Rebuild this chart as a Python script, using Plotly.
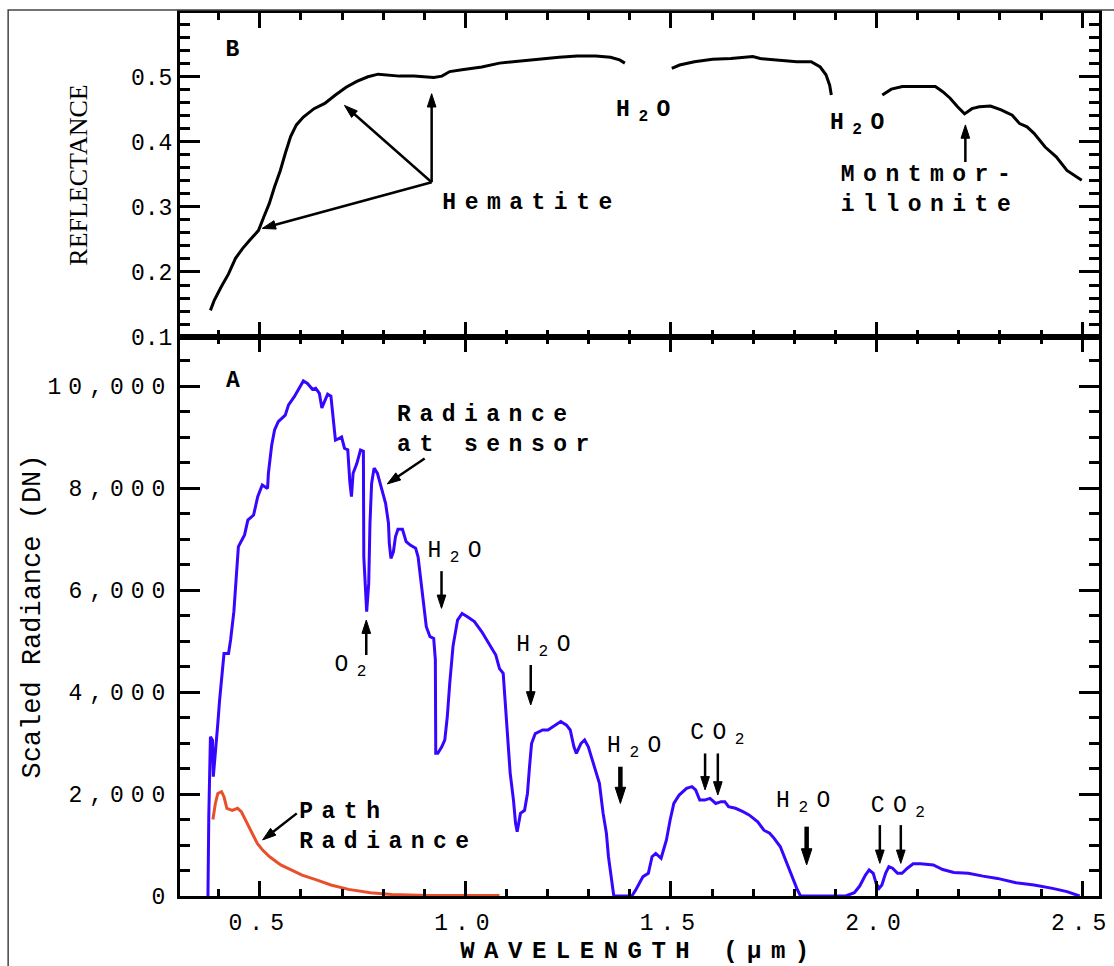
import plotly.graph_objects as go

# ---- Panel A: radiance at the sensor and path radiance (scaled DN) ----
sensor_wl = [0.374, 0.376, 0.380, 0.385, 0.387, 0.393, 0.398, 0.402, 0.409, 0.413, 0.424, 0.429,
             0.437, 0.441, 0.448, 0.463, 0.471, 0.485, 0.495, 0.506, 0.519, 0.521, 0.529, 0.536,
             0.545, 0.562, 0.570, 0.584, 0.597, 0.606, 0.616, 0.628, 0.636, 0.645, 0.651, 0.658,
             0.665, 0.673, 0.680, 0.684, 0.692, 0.699, 0.706, 0.714, 0.719, 0.723, 0.727, 0.736,
             0.745, 0.752, 0.753, 0.760, 0.765, 0.768, 0.772, 0.778, 0.786, 0.795, 0.806, 0.813,
             0.815, 0.819, 0.825, 0.830, 0.836, 0.847, 0.856, 0.866, 0.879, 0.885, 0.892, 0.899,
             0.905, 0.914, 0.923, 0.927, 0.928, 0.933, 0.943, 0.950, 0.956, 0.962, 0.970, 0.981,
             0.992, 1.005, 1.022, 1.040, 1.057, 1.074, 1.083, 1.092, 1.096, 1.100, 1.105, 1.109,
             1.117, 1.122, 1.126, 1.131, 1.134, 1.144, 1.151, 1.156, 1.161, 1.170, 1.188, 1.201,
             1.219, 1.232, 1.246, 1.255, 1.264, 1.270, 1.281, 1.290, 1.299, 1.312, 1.321, 1.326,
             1.335, 1.343, 1.348, 1.357, 1.361, 1.405, 1.414, 1.432, 1.445, 1.454, 1.463, 1.476,
             1.489, 1.498, 1.507, 1.520, 1.538, 1.551, 1.560, 1.570, 1.582, 1.595, 1.609, 1.622,
             1.631, 1.640, 1.657, 1.675, 1.690, 1.711, 1.726, 1.740, 1.751, 1.766, 1.779, 1.788,
             1.797, 1.806, 1.815, 1.925, 1.946, 1.959, 1.973, 1.982, 1.992, 1.999, 2.006, 2.013,
             2.022, 2.030, 2.039, 2.051, 2.062, 2.075, 2.089, 2.107, 2.138, 2.161, 2.188, 2.223,
             2.259, 2.294, 2.339, 2.383, 2.428, 2.463, 2.494]
sensor_dn = [0, 1550, 3120, 3055, 2340, 2860, 3385, 3810, 4365, 4755, 4755, 5020,
             5575, 6100, 6850, 7080, 7370, 7470, 7830, 8060, 7990, 8290, 8840, 9140,
             9300, 9430, 9630, 9790, 9990, 10100, 10050, 9935, 9955, 9855, 9570, 9725,
             9840, 9800, 9200, 8940, 8970, 9000, 8780, 8750, 8120, 7830, 8290, 8480,
             8745, 8720, 6650, 5575, 6130, 7310, 8090, 8390, 8290, 8025, 7700, 7310,
             6920, 6620, 6750, 7045, 7190, 7190, 6950, 6880, 6820, 6650, 6130, 5675,
             5280, 5085, 5050, 4630, 2800, 2800, 2930, 3060, 3510, 4170, 4900, 5410,
             5540, 5475, 5380, 5180, 4955, 4725, 4460, 4365, 3905, 3450, 3060, 2410,
             1880, 1430, 1260, 1455, 1620, 1680, 2010, 2530, 2990, 3185, 3255, 3255,
             3350, 3420, 3350, 3255, 2925, 2795, 2990, 3060, 2925, 2600, 2340, 2210,
             1620, 1230, 770, 180, 0, 0, 115, 380, 445, 770, 835, 740,
             1100, 1490, 1815, 1980, 2110, 2145, 2080, 1880, 1880, 1915, 1815, 1850,
             1850, 1750, 1720, 1655, 1590, 1455, 1290, 1230, 1130, 965, 705, 510,
             315, 150, 0, 0, 65, 195, 410, 510, 445, 245, 150, 215,
             445, 575, 545, 445, 445, 545, 630, 630, 610, 520, 460, 445,
             390, 345, 260, 215, 150, 85, 0]

path_wl = [0.386, 0.392, 0.398, 0.407, 0.413, 0.420, 0.433, 0.446, 0.455, 0.468, 0.481, 0.494,
           0.507, 0.524, 0.551, 0.577, 0.603, 0.638, 0.673, 0.716, 0.769, 0.821, 0.908, 1.083]
path_dn = [1500, 1815, 2010, 2045, 1945, 1720, 1680, 1720, 1655, 1455, 1230, 1030,
           900, 770, 610, 510, 410, 315, 215, 130, 65, 30, 10, 10]

# ---- Panel B: reflectance of a hematite / montmorillonite soil (three windows) ----
refl_wl_vnir = [0.380, 0.389, 0.406, 0.424, 0.441, 0.458, 0.476, 0.497, 0.510, 0.523, 0.536, 0.550,
                0.562, 0.575, 0.589, 0.606, 0.632, 0.658, 0.684, 0.710, 0.736, 0.763, 0.788, 0.805,
                0.840, 0.875, 0.910, 0.923, 0.943, 0.962, 0.996, 1.040, 1.083, 1.127, 1.170, 1.196,
                1.228, 1.272, 1.317, 1.353, 1.375, 1.388]
refl_vnir = [0.141, 0.156, 0.177, 0.197, 0.221, 0.236, 0.249, 0.264, 0.285, 0.305, 0.331, 0.356,
             0.382, 0.408, 0.426, 0.438, 0.451, 0.459, 0.472, 0.484, 0.493, 0.500, 0.504, 0.503,
             0.501, 0.501, 0.499, 0.499, 0.501, 0.508, 0.511, 0.515, 0.521, 0.524, 0.526, 0.528,
             0.530, 0.532, 0.532, 0.530, 0.526, 0.521]
refl_wl_swir1 = [1.502, 1.521, 1.557, 1.601, 1.646, 1.699, 1.717, 1.761, 1.806, 1.841, 1.863, 1.877,
                 1.886, 1.890]
refl_swir1 = [0.513, 0.518, 0.523, 0.527, 0.528, 0.531, 0.528, 0.526, 0.523, 0.523, 0.515, 0.503,
              0.487, 0.472]
refl_wl_swir2 = [2.014, 2.036, 2.063, 2.099, 2.143, 2.161, 2.179, 2.197, 2.214, 2.232, 2.250, 2.277,
                 2.303, 2.330, 2.348, 2.366, 2.383, 2.410, 2.437, 2.463, 2.499]
refl_swir2 = [0.472, 0.481, 0.485, 0.485, 0.485, 0.477, 0.467, 0.454, 0.443, 0.451, 0.454, 0.455,
              0.449, 0.441, 0.428, 0.423, 0.413, 0.392, 0.377, 0.356, 0.341]

# ---- tick labels ----
wl_tick_vals = [0.5, 1.0, 1.5, 2.0, 2.5]
wl_tick_text = ["0.5", "1.0", "1.5", "2.0", "2.5"]
dn_tick_vals = [0, 2000, 4000, 6000, 8000, 10000]
dn_tick_text = ["0", "2,000", "4,000", "6,000", "8,000", "10,000"]
refl_tick_vals = [0.1, 0.2, 0.3, 0.4, 0.5]
refl_tick_text = ["0.1", "0.2", "0.3", "0.4", "0.5"]

# ---- feature labels ----
b_labels = ["B", "Hematite", "H<sub>2</sub>O", "H<sub>2</sub>O", "Montmor-<br>illonite"]
b_label_wl = [0.444, 1.161, 1.443, 1.963, 2.130]
b_label_refl = [0.541, 0.305, 0.449, 0.429, 0.326]

a_bold_labels = ["A", "Radiance<br>at sensor", "Path<br>Radiance"]
a_bold_wl = [0.445, 0.834, 0.596]
a_bold_dn = [10085, 9140, 1350]
a_bold_pos = ["middle center", "middle right", "middle right"]

a_gas_labels = ["O<sub>2</sub>", "H<sub>2</sub>O", "H<sub>2</sub>O", "H<sub>2</sub>O",
                "CO<sub>2</sub>", "H<sub>2</sub>O", "CO<sub>2</sub>"]
a_gas_wl = [0.731, 0.984, 1.200, 1.421, 1.623, 1.832, 2.062]
a_gas_dn = [4530, 6765, 4920, 2930, 3195, 1850, 1750]

MONO = "Liberation Mono, Cousine, Courier New, DejaVu Sans Mono, monospace"
SERIF = "Liberation Serif, Times New Roman, serif"
BLUE = "#3606ff"
RED = "#e8502c"

refl_wl = refl_wl_vnir + [None] + refl_wl_swir1 + [None] + refl_wl_swir2
refl = refl_vnir + [None] + refl_swir1 + [None] + refl_swir2

fig = go.Figure()
fig.add_trace(go.Scatter(x=sensor_wl, y=sensor_dn, mode="lines", xaxis="x", yaxis="y",
                         line=dict(color=BLUE, width=3), name="Radiance at sensor"))
fig.add_trace(go.Scatter(x=path_wl, y=path_dn, mode="lines", xaxis="x", yaxis="y",
                         line=dict(color=RED, width=3), name="Path Radiance"))
fig.add_trace(go.Scatter(x=refl_wl, y=refl, mode="lines", xaxis="x2", yaxis="y2",
                         line=dict(color="black", width=3), connectgaps=False, name="Reflectance"))


def add_arrow(x_head, y_head, x_tail, y_tail, panel, width=2.5, head=14):
    """Pointer line with a narrow filled arrowhead whose tip sits on (x_head, y_head)."""
    xa, ya = ("x", "y") if panel == "A" else ("x2", "y2")
    fig.add_trace(go.Scatter(
        x=[x_tail, x_head], y=[y_tail, y_head], xaxis=xa, yaxis=ya,
        mode="lines+markers", hoverinfo="skip", showlegend=False,
        line=dict(color="black", width=width),
        marker=dict(symbol="arrow", size=[0, head], angleref="previous",
                    color="black", opacity=1, line=dict(width=1, color="black"))))


# pointers, panel B
add_arrow(0.918, 0.474, 0.918, 0.338, "B")
add_arrow(0.706, 0.456, 0.918, 0.338, "B")
add_arrow(0.506, 0.267, 0.918, 0.338, "B")
add_arrow(2.216, 0.426, 2.216, 0.369, "B")
# pointers, panel A
add_arrow(0.810, 8080, 0.901, 8580, "A")
add_arrow(0.759, 5410, 0.759, 4725, "A")
add_arrow(0.942, 5640, 0.942, 6370, "A")
add_arrow(1.159, 3745, 1.159, 4530, "A")
add_arrow(1.377, 1815, 1.377, 2535, "A", width=4.5, head=17)
add_arrow(1.583, 2080, 1.583, 2795, "A")
add_arrow(1.614, 1980, 1.614, 2795, "A")
add_arrow(1.830, 610, 1.830, 1360, "A", width=4.5, head=17)
add_arrow(2.008, 640, 2.008, 1390, "A")
add_arrow(2.059, 640, 2.059, 1390, "A")
add_arrow(0.507, 1100, 0.590, 1620, "A")

# feature labels as text marks
fig.add_trace(go.Scatter(x=b_label_wl, y=b_label_refl, text=b_labels, mode="text",
                         xaxis="x2", yaxis="y2", textposition="middle center",
                         hoverinfo="skip", showlegend=False, cliponaxis=False,
                         textfont=dict(family=MONO, size=23, color="black", weight="bold")))
fig.add_trace(go.Scatter(x=a_bold_wl, y=a_bold_dn, text=a_bold_labels, mode="text",
                         xaxis="x", yaxis="y", textposition=a_bold_pos,
                         hoverinfo="skip", showlegend=False, cliponaxis=False,
                         textfont=dict(family=MONO, size=23, color="black", weight="bold")))
fig.add_trace(go.Scatter(x=a_gas_wl, y=a_gas_dn, text=a_gas_labels, mode="text",
                         xaxis="x", yaxis="y", textposition="middle center",
                         hoverinfo="skip", showlegend=False, cliponaxis=False,
                         textfont=dict(family=MONO, size=23, color="black")))

frame = dict(showline=True, linewidth=3, linecolor="black", mirror="ticks",
             ticks="inside", tickwidth=3, tickcolor="black",
             showgrid=False, zeroline=False, automargin=False)

split = 0.633
tick_font = dict(family=MONO, size=23, color="black")

fig.update_layout(
    width=1114, height=966,
    margin=dict(l=180, r=15, t=13, b=70, autoexpand=False),
    paper_bgcolor="white", plot_bgcolor="white",
    showlegend=False,
    font=dict(family=MONO, size=21, color="black"),
    xaxis=dict(**frame, domain=[0, 1], anchor="y", range=[0.306, 2.541],
               tickmode="array", tickvals=wl_tick_vals, ticktext=wl_tick_text,
               ticklen=15, ticklabelstandoff=3, tickfont=tick_font,
               title=dict(text="WAVELENGTH (\u00b5m)", standoff=6,
                          font=dict(family=MONO, size=24, color="black", weight="bold")),
               minor=dict(tickmode="linear", tick0=0, dtick=0.1, ticks="inside",
                          ticklen=7, tickwidth=3, tickcolor="black", showgrid=False)),
    xaxis2=dict(**frame, domain=[0, 1], anchor="y2", matches="x", showticklabels=False,
                ticklen=15, tickmode="array", tickvals=wl_tick_vals,
                minor=dict(tickmode="linear", tick0=0, dtick=0.1, ticks="inside",
                           ticklen=7, tickwidth=3, tickcolor="black", showgrid=False)),
    yaxis=dict(**frame, domain=[0, split], anchor="x", range=[0, 10960],
               tickmode="array", tickvals=dn_tick_vals, ticktext=dn_tick_text,
               ticklen=20, ticklabelstandoff=0, tickfont=tick_font,
               title=dict(text="Scaled Radiance (DN)", standoff=42,
                          font=dict(family=MONO, size=27, color="black")),
               minor=dict(tickmode="linear", tick0=0, dtick=500, ticks="inside",
                          ticklen=10, tickwidth=3, tickcolor="black", showgrid=False)),
    yaxis2=dict(**frame, domain=[split, 1], anchor="x2", range=[0.1, 0.598],
                tickmode="array", tickvals=refl_tick_vals, ticktext=refl_tick_text,
                ticklen=20, ticklabelstandoff=0, tickfont=tick_font,
                title=dict(text="REFLECTANCE", standoff=36,
                           font=dict(family=SERIF, size=26, color="black")),
                minor=dict(tickmode="linear", tick0=0, dtick=0.02, ticks="inside",
                           ticklen=10, tickwidth=3, tickcolor="black", showgrid=False)),
    shapes=[dict(type="rect", xref="paper", yref="paper", x0=-0.187, x1=1.06,
                 y0=-0.12, y1=1.0034, line=dict(color="#444", width=1.5),
                 fillcolor="rgba(0,0,0,0)", layer="above")],
)

# widen the typewriter lettering (rotated axis titles keep normal spacing)
spacing_js = """
var gd = document.getElementById('{plot_id}');
function spreadLetters() {
  gd.querySelectorAll('.xtick text, .ytick text').forEach(function (t) {
    t.style.letterSpacing = '7px';
  });
  gd.querySelectorAll('.textpoint text').forEach(function (t) {
    t.style.letterSpacing = '8.5px';
  });
  gd.querySelectorAll('.g-xtitle text').forEach(function (t) {
    t.style.letterSpacing = '9.5px';
  });
}
spreadLetters();
gd.on('plotly_afterplot', spreadLetters);
"""

fig.write_html("out.html", post_script=spacing_js)
